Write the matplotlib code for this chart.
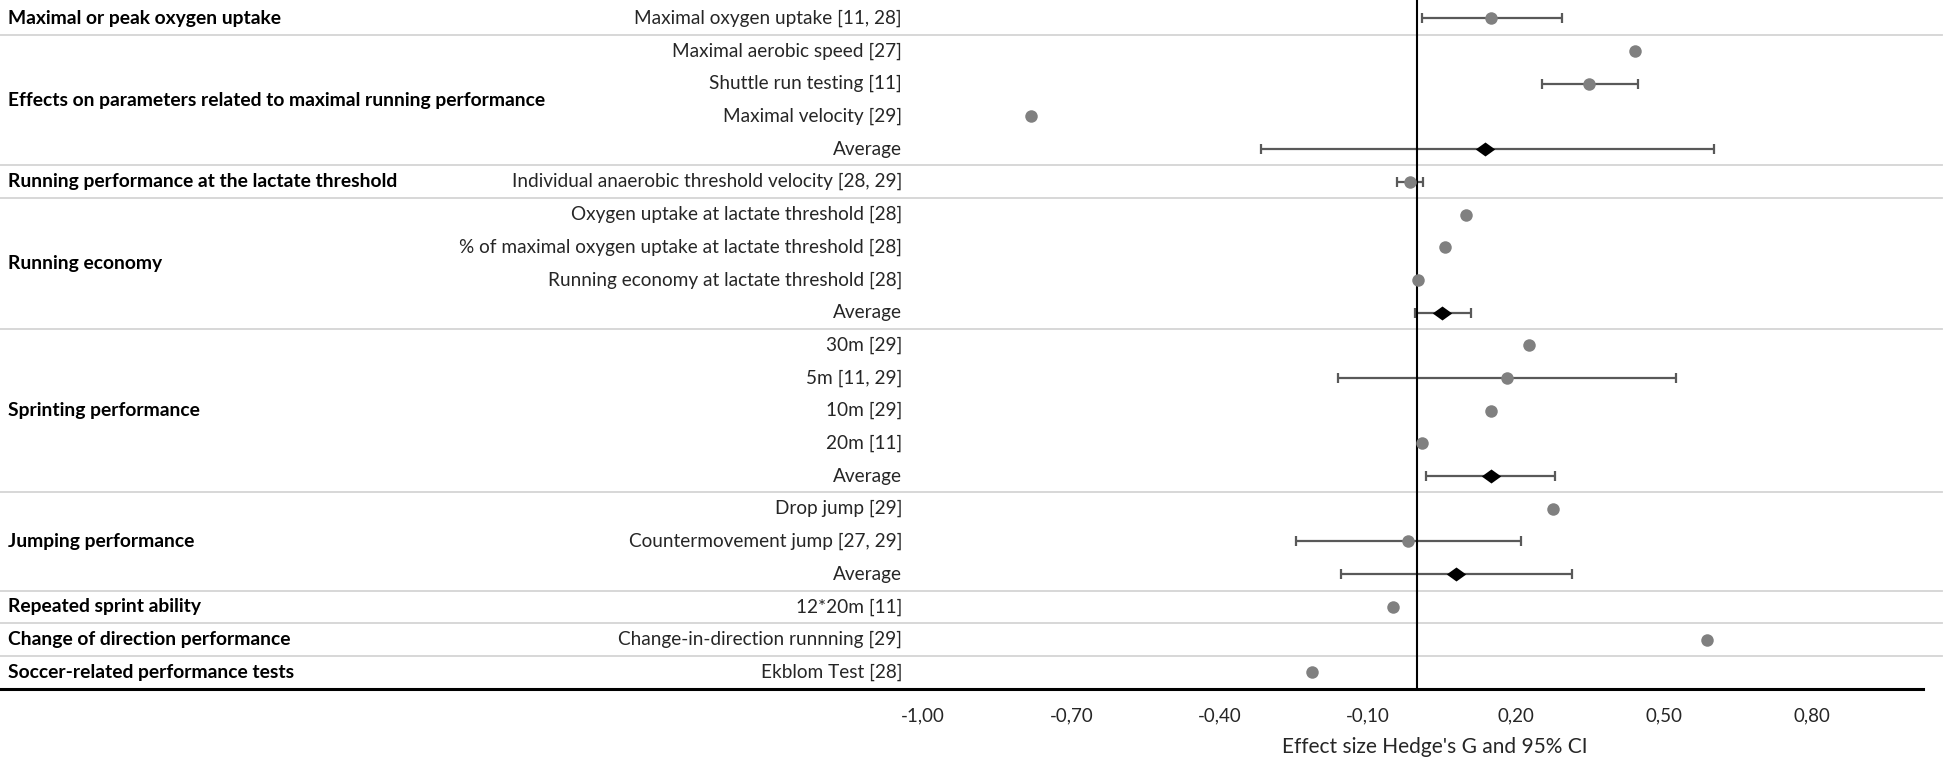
import numpy as np
import matplotlib.pyplot as plt

plt.rcParams['font.family'] = ['Lato', 'DejaVu Sans']

# outcome groups and how many rows each one spans
groups = ["Maximal or peak oxygen uptake",
          "Effects on parameters related to maximal running performance",
          "Running performance at the lactate threshold",
          "Running economy",
          "Sprinting performance",
          "Jumping performance",
          "Repeated sprint ability",
          "Change of direction performance",
          "Soccer-related performance tests"]
group_sizes = [1, 4, 1, 4, 5, 3, 1, 1, 1]

outcomes = ["Maximal oxygen uptake [11, 28]",
            "Maximal aerobic speed [27]",
            "Shuttle run testing [11]",
            "Maximal velocity [29]",
            "Average",
            "Individual anaerobic threshold velocity [28, 29]",
            "Oxygen uptake at lactate threshold [28]",
            "% of maximal oxygen uptake at lactate threshold [28]",
            "Running economy at lactate threshold [28]",
            "Average",
            "30m [29]",
            "5m [11, 29]",
            "10m [29]",
            "20m [11]",
            "Average",
            "Drop jump [29]",
            "Countermovement jump [27, 29]",
            "Average",
            "12*20m [11]",
            "Change-in-direction runnning [29]",
            "Ekblom Test [28]"]

# Hedges' g and 95% CI (nan = no interval shown)
effect = np.array([0.149, 0.441, 0.349, -0.782, 0.138, -0.014, 0.099, 0.057, 0.002, 0.051,
                   0.226, 0.182, 0.149, 0.011, 0.149, 0.276, -0.018, 0.080, -0.049, 0.587, -0.213])
ci_low = np.array([0.010, np.nan, 0.253, np.nan, -0.315, -0.041, np.nan, np.nan, np.nan, -0.003,
                   np.nan, -0.160, np.nan, np.nan, 0.019, np.nan, -0.246, -0.154, np.nan, np.nan, np.nan])
ci_high = np.array([0.294, np.nan, 0.448, np.nan, 0.602, 0.013, np.nan, np.nan, np.nan, 0.110,
                    np.nan, 0.524, np.nan, np.nan, 0.280, np.nan, 0.211, 0.314, np.nan, np.nan, np.nan])

ticks = [-1.0, -0.7, -0.4, -0.1, 0.2, 0.5, 0.8]
tick_labels = ["-1,00", "-0,70", "-0,40", "-0,10", "0,20", "0,50", "0,80"]

rows = np.arange(len(outcomes))
is_avg = np.array([o == "Average" for o in outcomes])

fig = plt.figure(figsize=(19.46, 7.6), dpi=100)
ax = fig.add_axes([0, 1 - 689.3 / 760, 1, 689.3 / 760])
ax.set_xlim(-2.870, 1.0715)
ax.set_ylim(20.52, -0.56)

for s in ['top', 'right', 'left']:
    ax.spines[s].set_visible(False)
ax.spines['bottom'].set_linewidth(2.2)
ax.spines['bottom'].set_bounds(-2.870, 1.025)

ax.set_yticks([])
ax.set_xticks(ticks)
ax.set_xticklabels(tick_labels, fontsize=13.5, color='#262626')
ax.tick_params(axis='x', length=0, pad=13)

# separators between groups
bounds = np.cumsum(group_sizes)
for b in bounds[:-1]:
    ax.axhline(b - 0.5, 0, 0.998, color='#d4d4d4', lw=1.3, zorder=1)

# group labels (left column) and outcome labels
start = 0
for g, n in zip(groups, group_sizes):
    ax.text(-2.854, start + (n - 1) / 2, g, ha='left', va='center',
            fontsize=13.9, fontweight='bold', color='black')
    start += n
for r, o in zip(rows, outcomes):
    ax.text(-1.043, r, o, ha='right', va='center', fontsize=13.7, color='#262626')

ax.axvline(0, color='black', lw=1.5, zorder=2.5)

m = ~np.isnan(ci_low)
ax.errorbar(effect[m], rows[m], xerr=[effect[m] - ci_low[m], ci_high[m] - effect[m]],
            fmt='none', ecolor='#595959', elinewidth=1.6, capsize=3.8, capthick=1.6, zorder=2)

ax.plot(effect[~is_avg], rows[~is_avg], 'o', color='#808080', ms=9, mec='none', zorder=3)
diamond = [(-1, 0), (0, 0.72), (1, 0), (0, -0.72), (-1, 0)]
ax.plot(effect[is_avg], rows[is_avg], ls='none', marker=diamond, color='black', ms=14, mec='none', zorder=3)

fig.text(1435 / 1946, 1 - 747 / 760, "Effect size Hedge's G and 95% CI", ha='center', va='center',
         fontsize=15, color='#262626')

plt.savefig("out.png")
